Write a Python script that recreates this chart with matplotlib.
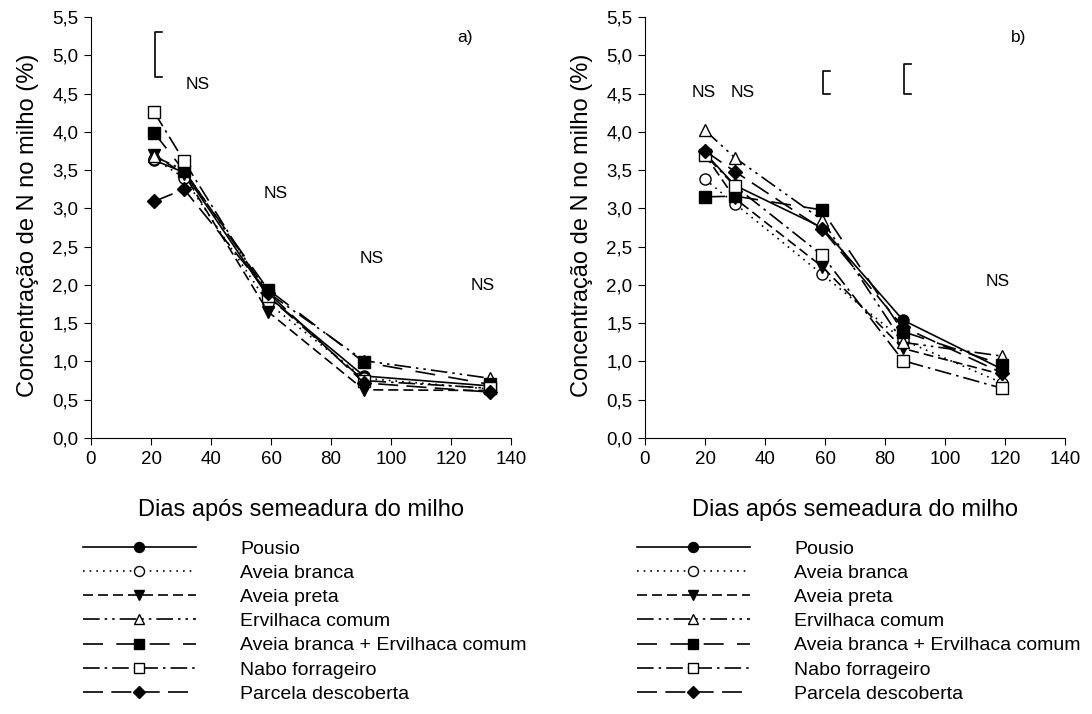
import numpy as np
import matplotlib.pyplot as plt

plt.rcParams['font.family'] = ['Liberation Sans', 'DejaVu Sans']

tratamentos = ['Pousio', 'Aveia branca', 'Aveia preta', 'Ervilhaca comum',
               'Aveia branca + Ervilhaca comum', 'Nabo forrageiro', 'Parcela descoberta']

# a) dias de coleta e concentração de N (%)
dias_a = [21, 31, 59, 91, 133]
n_a = {
    'Pousio':                         [3.63, 3.47, 1.85, 0.81, 0.68],
    'Aveia branca':                   [3.65, 3.40, 1.76, 0.78, 0.64],
    'Aveia preta':                    [3.70, 3.45, 1.65, 0.63, 0.62],
    'Ervilhaca comum':                [3.68, 3.50, 1.90, 1.01, 0.78],
    'Aveia branca + Ervilhaca comum': [3.99, 3.49, 1.94, 0.99, 0.70],
    'Nabo forrageiro':                [4.26, 3.62, 1.85, 0.75, 0.65],
    'Parcela descoberta':             [3.09, 3.25, 1.90, 0.72, 0.60],
}

# b)
dias_b = [20, 30, 59, 86, 119]
n_b = {
    'Pousio':                         [3.72, 3.30, 2.75, 1.54, 0.90],
    'Aveia branca':                   [3.38, 3.06, 2.14, 1.28, 0.72],
    'Aveia preta':                    [3.70, 3.13, 2.24, 1.17, 0.83],
    'Ervilhaca comum':                [4.02, 3.66, 2.85, 1.25, 1.07],
    'Aveia branca + Ervilhaca comum': [3.15, 3.16, 2.98, 1.39, 0.96],
    'Nabo forrageiro':                [3.70, 3.29, 2.39, 1.01, 0.65],
    'Parcela descoberta':             [3.75, 3.48, 2.73, 1.45, 0.85],
}

estilos = {
    'Pousio':                         dict(marker='o', mfc='black', ls='-'),
    'Aveia branca':                   dict(marker='o', mfc='white', ls=(0, (1, 3))),
    'Aveia preta':                    dict(marker='v', mfc='black', ls=(0, (6, 3))),
    'Ervilhaca comum':                dict(marker='^', mfc='white', ls=(0, (10, 3, 1.5, 3, 1.5, 3))),
    'Aveia branca + Ervilhaca comum': dict(marker='s', mfc='black', ls=(0, (12, 8))),
    'Nabo forrageiro':                dict(marker='s', mfc='white', ls=(0, (10, 3, 1.5, 3))),
    'Parcela descoberta':             dict(marker='D', mfc='black', ls=(0, (12, 5))),
}
tam_marc = {'o': 8, 'v': 8, '^': 8, 's': 8, 'D': 7}


def painel(ax, dias, dados, letra):
    for t in tratamentos:
        e = estilos[t]
        ax.plot(dias, dados[t], color='black', lw=1.2, linestyle=e['ls'],
                marker=e['marker'], ms=tam_marc[e['marker']], mfc=e['mfc'],
                mec='black', mew=1.0, label=t)
    ax.set_xlim(0, 140)
    ax.set_ylim(0, 5.5)
    ax.set_xticks(np.arange(0, 141, 20))
    ax.set_yticks(np.arange(0, 5.51, 0.5))
    ax.set_yticklabels([f'{v:.1f}'.replace('.', ',') for v in np.arange(0, 5.51, 0.5)])
    ax.spines['top'].set_visible(False)
    ax.spines['right'].set_visible(False)
    ax.tick_params(direction='out', length=5, labelsize=13.5, pad=4)
    ax.set_xlabel('Dias após semeadura do milho', fontsize=17)
    ax.set_ylabel('Concentração de N no milho (%)', fontsize=17)
    ax.xaxis.set_label_coords(0.5, -0.144)
    ax.yaxis.set_label_coords(-0.124, 0.506)
    ax.text(0.872, 0.94, letra, transform=ax.transAxes, fontsize=12.5)


def colchete(ax, x, y0, y1, w=2.3):
    ax.plot([x + w, x, x, x + w], [y1, y1, y0, y0], color='black', lw=1.2)


fig = plt.figure(figsize=(10.92, 7.14), dpi=100)
ax1 = fig.add_axes([91 / 1092, 1 - 438 / 714, 420 / 1092, 421 / 714])
ax2 = fig.add_axes([645 / 1092, 1 - 438 / 714, 420 / 1092, 421 / 714])

painel(ax1, dias_a, n_a, 'a)')
painel(ax2, dias_b, n_b, 'b)')

# DMS e NS
colchete(ax1, 21.2, 4.71, 5.30)
for x, y in [(35.5, 4.62), (61.5, 3.20), (93.5, 2.35), (130.5, 1.99)]:
    ax1.text(x, y, 'NS', fontsize=12.5, ha='center', va='center')

colchete(ax2, 59.2, 4.49, 4.80)
colchete(ax2, 86.3, 4.49, 4.89)
for x, y in [(19.5, 4.52), (32.5, 4.52), (117.5, 2.04)]:
    ax2.text(x, y, 'NS', fontsize=12.5, ha='center', va='center')

for ax, x0 in [(ax1, 83), (ax2, 637)]:
    h, l = ax.get_legend_handles_labels()
    fig.legend(h, l, loc='upper left', bbox_to_anchor=(x0 / 1092, 1 - 540 / 714),
               frameon=False, fontsize=14, handlelength=5.8, numpoints=1,
               markerscale=0.9, handletextpad=2.3, labelspacing=0.34,
               borderpad=0, borderaxespad=0)

fig.savefig('out.png', dpi=100)
